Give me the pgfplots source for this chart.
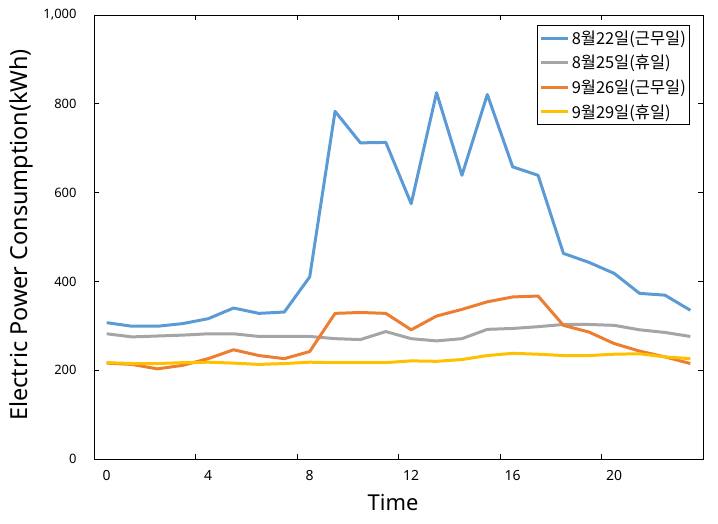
\documentclass[border=0pt]{standalone}
\usepackage{fontspec}
\setmainfont{Noto Sans CJK KR}
\newfontfamily\latinfont{Noto Sans}
\usepackage{pgfplots}
\pgfplotsset{compat=1.18}
\definecolor{cblue}{HTML}{5B9BD5}
\definecolor{cgray}{HTML}{A5A5A5}
\definecolor{corange}{HTML}{ED7D31}
\definecolor{cyellow}{HTML}{FFC000}
\begin{document}
\begin{tikzpicture}
\path[use as bounding box] (0,0) rectangle (718bp,524bp);
\begin{axis}[
  at={(94bp,65bp)}, anchor=south west,
  scale only axis, width=609bp, height=444bp,
  xmin=-0.5, xmax=23.5, ymin=0, ymax=1000,
  xtick={0,4,8,12,16,20},
  minor xtick={3.5,7.5,11.5,15.5,19.5},
  ytick={0,200,400,600,800,1000},
  major x tick style={draw=none},
  tick align=inside,
  major tick length=5bp, minor tick length=5bp,
  every tick/.style={black, line width=0.75bp},
  axis line style={black, line width=0.9bp},
  /pgf/number format/assume math mode=true,
  /pgf/number format/1000 sep={,},
  y tick label style={font=\latinfont\fontsize{13}{15}\selectfont, xshift=-14bp},
  x tick label style={font=\latinfont\fontsize{14}{16}\selectfont, yshift=-8bp},
  xlabel={Time},
  ylabel={Electric Power Consumption(kWh)},
  xlabel style={font=\latinfont\fontsize{22}{26}\selectfont, at={(axis description cs:0.491,-0.097)}, anchor=center},
  ylabel style={font=\latinfont\fontsize{23.5}{28}\selectfont, at={(axis description cs:-0.12,0.505)}, anchor=center, rotate=0},
  legend style={draw=black, line width=0.75bp, at={(0.979,0.977)}, anchor=north east,
    font=\fontsize{16.5}{19}\selectfont, row sep=5.5bp, inner xsep=2bp, inner ysep=3bp,
    cells={anchor=west}},
  legend image code/.code={\draw[#1, line width=3bp] (0bp,0bp) -- (27bp,0bp);},
  legend cell align=left,
  every axis plot/.append style={line width=3bp, no markers, line join=round},
]
\addplot[cblue] coordinates {
(0,307) (1,299) (2,299) (3,305) (4,316) (5,340) (6,328) (7,331) (8,410) (9,783) (10,712) (11,713)
(12,575) (13,825) (14,639) (15,821) (16,658) (17,639) (18,463) (19,443) (20,418) (21,373) (22,369) (23,335)};
\addlegendentry{8월22일(근무일)}
\addplot[cgray] coordinates {
(0,282) (1,275) (2,277) (3,279) (4,282) (5,282) (6,276) (7,276) (8,276) (9,271) (10,269) (11,287)
(12,271) (13,266) (14,271) (15,292) (16,294) (17,298) (18,303) (19,303) (20,301) (21,291) (22,285) (23,276)};
\addlegendentry{8월25일(휴일)}
\addplot[corange] coordinates {
(0,216) (1,213) (2,203) (3,211) (4,226) (5,246) (6,233) (7,226) (8,242) (9,328) (10,330) (11,328)
(12,291) (13,322) (14,337) (15,354) (16,365) (17,367) (18,301) (19,286) (20,260) (21,243) (22,230) (23,215)};
\addlegendentry{9월26일(근무일)}
\addplot[cyellow] coordinates {
(0,217) (1,215) (2,215) (3,217) (4,218) (5,216) (6,213) (7,215) (8,218) (9,217) (10,217) (11,217)
(12,221) (13,220) (14,224) (15,233) (16,238) (17,236) (18,233) (19,233) (20,236) (21,237) (22,230) (23,226)};
\addlegendentry{9월29일(휴일)}
\end{axis}
\end{tikzpicture}
\end{document}
